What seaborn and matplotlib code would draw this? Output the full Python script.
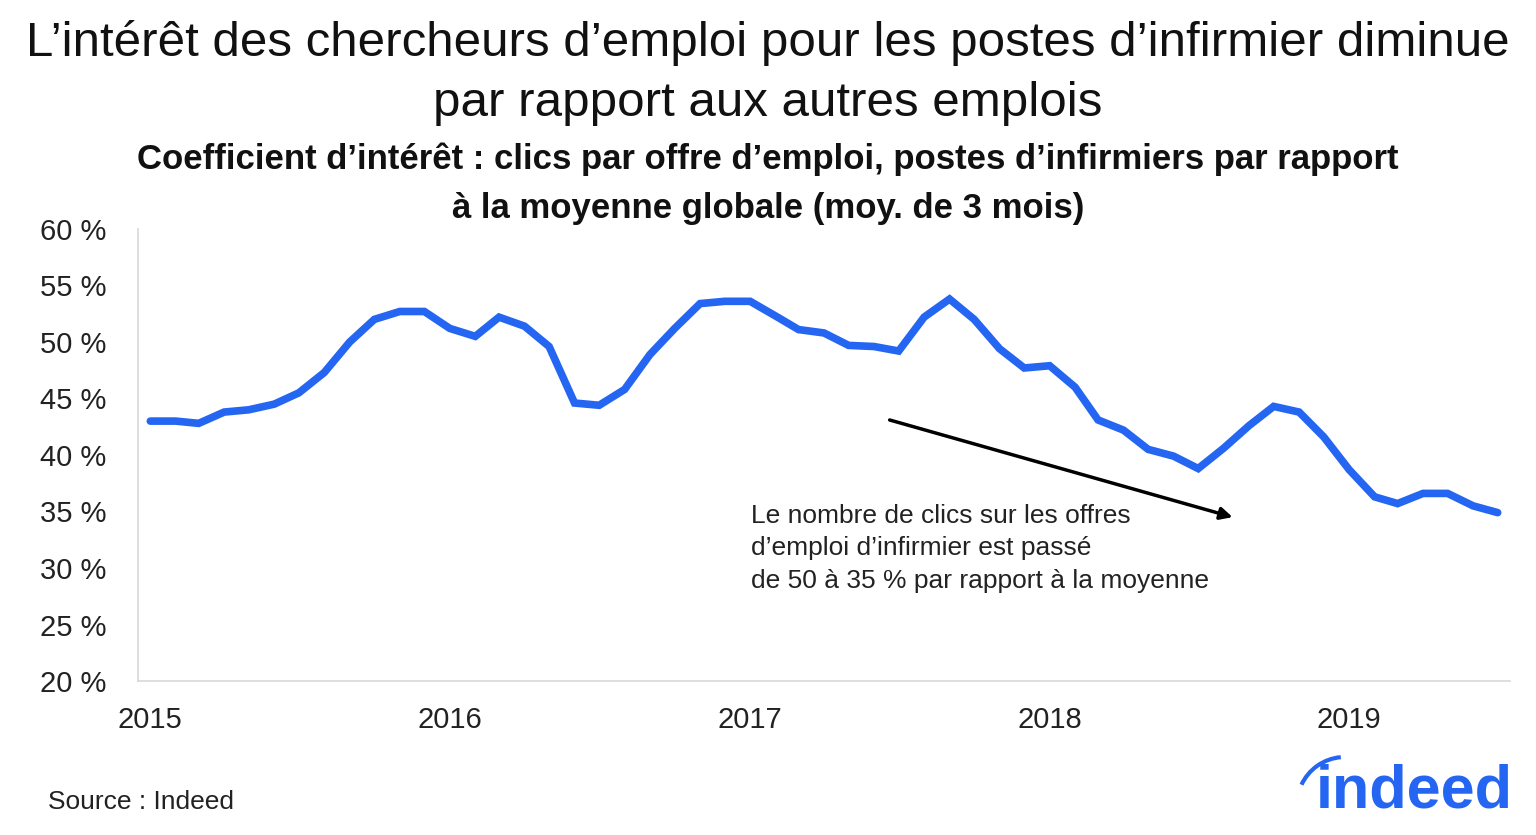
import pandas as pd
import matplotlib.pyplot as plt
from matplotlib.patches import Arc
import seaborn as sns

# Data (monthly, Jan 2015 - Jul 2019)
months = pd.date_range('2015-01-01', '2019-07-01', freq='MS')
ratio = [43.0, 43.0, 42.8, 43.8, 44.0, 44.5, 45.5, 47.3, 50.0, 52.0, 52.7, 52.7,
         51.2, 50.5, 52.2, 51.4, 49.6, 44.6, 44.4, 45.8, 48.9, 51.2, 53.4, 53.6,
         53.6, 52.3, 51.1, 50.8, 49.7, 49.6, 49.2, 52.2, 53.8, 52.0, 49.4, 47.7,
         47.9, 46.0, 43.1, 42.2, 40.5, 39.9, 38.8, 40.6, 42.6, 44.3, 43.8, 41.6,
         38.7, 36.3, 35.7, 36.6, 36.6, 35.5, 34.9]
year_ticks = ['2015', '2016', '2017', '2018', '2019']
y_ticks = [20, 25, 30, 35, 40, 45, 50, 55, 60]

df = pd.DataFrame({'month': months, 'ratio': ratio})

sns.set_style('white')
plt.rcParams['font.family'] = ['Liberation Sans', 'DejaVu Sans']

blue = '#2466f2'
grey_text = '#222222'

fig = plt.figure(figsize=(15.36, 8.35), dpi=100)
ax = fig.add_axes([138 / 1536, 1 - 681 / 835, (1510 - 138) / 1536, (681 - 229) / 835])

sns.lineplot(data=df, x='month', y='ratio', ax=ax, color=blue, linewidth=5.5,
             solid_joinstyle='miter')

ax.set_xlim(pd.Timestamp('2014-12-17'), pd.Timestamp('2019-07-16'))
ax.set_ylim(20, 60)
ax.set_yticks(y_ticks)
ax.set_yticklabels([f'{v} %' for v in y_ticks], fontsize=21, color=grey_text)
ax.set_xticks([pd.Timestamp(f'{y}-01-01') for y in year_ticks])
ax.set_xticklabels(year_ticks, fontsize=21, color=grey_text)
ax.tick_params(axis='both', length=0)
ax.tick_params(axis='x', pad=18)
ax.tick_params(axis='y', pad=23)
ax.set_xlabel('')
ax.set_ylabel('')
for side in ['top', 'right']:
    ax.spines[side].set_visible(False)
for side in ['left', 'bottom']:
    ax.spines[side].set_color('#d8d8d8')
    ax.spines[side].set_linewidth(1.2)

# Trend arrow and note
ax.annotate('', xy=(pd.Timestamp('2018-08-12'), 34.5),
            xytext=(pd.Timestamp('2017-06-20'), 43.1),
            arrowprops=dict(arrowstyle='-|>', color='black', lw=2.5,
                            mutation_scale=18, shrinkA=0, shrinkB=0))
ax.text(pd.Timestamp('2017-01-02'), 35.7,
        'Le nombre de clics sur les offres\n'
        'd\u2019emploi d\u2019infirmier est passé\n'
        'de 50 à 35 % par rapport à la moyenne',
        fontsize=19, color=grey_text, ha='left', va='top', linespacing=1.46)

# Titles
fig.text(0.5, 1 - 73 / 835,
         'L\u2019intérêt des chercheurs d\u2019emploi pour les postes d\u2019infirmier diminue\n'
         'par rapport aux autres emplois',
         fontsize=35.5, color='#111111', ha='center', va='center', linespacing=1.45)
fig.text(0.5, 1 - 184 / 835,
         'Coefficient d\u2019intérêt : clics par offre d\u2019emploi, postes d\u2019infirmiers par rapport\n'
         'à la moyenne globale (moy. de 3 mois)',
         fontsize=25, fontweight='bold', color='#111111', ha='center', va='center',
         linespacing=1.6)

# Source and logo
fig.text(48 / 1536, 1 - 802 / 835, 'Source : Indeed', fontsize=19, color=grey_text,
         ha='left', va='center')
fig.text(1513 / 1536, 1 - 808 / 835, 'indeed', fontsize=44, fontweight='bold',
         color=blue, ha='right', va='baseline')
fig.add_artist(Arc((13.45, 0.30), 0.96, 0.96, theta1=95, theta2=155,
                   transform=fig.dpi_scale_trans, color=blue, lw=3))

plt.savefig('out.png', dpi=100)
